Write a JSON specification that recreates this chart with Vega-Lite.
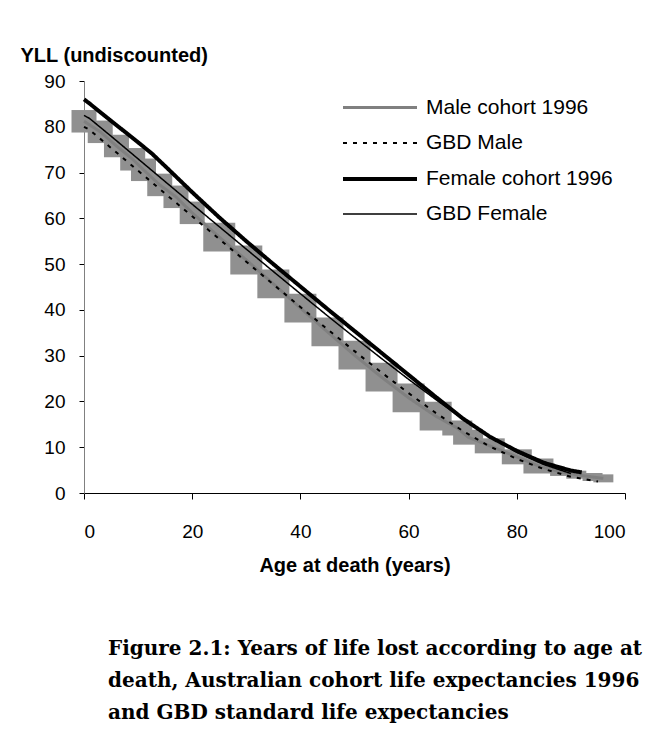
{
  "$schema": "https://vega.github.io/schema/vega-lite/v6.json",
  "width": 541,
  "height": 412,
  "autosize": {"type": "none"},
  "padding": {"left": 84, "top": 81, "right": 46, "bottom": 238},
  "background": "white",
  "config": {"view": {"stroke": null}, "font": "Liberation Sans"},
  "title": {
    "text": ["Figure 2.1: Years of life lost according to age at", "death, Australian cohort life expectancies 1996", "and GBD standard life expectancies"],
    "orient": "bottom",
    "anchor": "start",
    "frame": "group",
    "dx": 24,
    "offset": 64,
    "font": "DejaVu Serif",
    "fontSize": 20,
    "fontWeight": "bold",
    "lineHeight": 32,
    "color": "black"
  },
  "data": {
    "values": [
      {"series": "Male cohort 1996", "age": 0, "yll": 81.2},
      {"series": "Male cohort 1996", "age": 3, "yll": 78.9},
      {"series": "Male cohort 1996", "age": 6, "yll": 75.8},
      {"series": "Male cohort 1996", "age": 9, "yll": 72.9},
      {"series": "Male cohort 1996", "age": 11, "yll": 70.6},
      {"series": "Male cohort 1996", "age": 14, "yll": 67.3},
      {"series": "Male cohort 1996", "age": 17, "yll": 64.7},
      {"series": "Male cohort 1996", "age": 20, "yll": 61.2},
      {"series": "Male cohort 1996", "age": 25, "yll": 55.9},
      {"series": "Male cohort 1996", "age": 30, "yll": 50.9},
      {"series": "Male cohort 1996", "age": 35, "yll": 45.7},
      {"series": "Male cohort 1996", "age": 40, "yll": 40.4},
      {"series": "Male cohort 1996", "age": 45, "yll": 35.2},
      {"series": "Male cohort 1996", "age": 50, "yll": 30.1},
      {"series": "Male cohort 1996", "age": 55, "yll": 25.3},
      {"series": "Male cohort 1996", "age": 60, "yll": 20.8},
      {"series": "Male cohort 1996", "age": 65, "yll": 16.8},
      {"series": "Male cohort 1996", "age": 69, "yll": 14.2},
      {"series": "Male cohort 1996", "age": 71, "yll": 12.2},
      {"series": "Male cohort 1996", "age": 75, "yll": 10.3},
      {"series": "Male cohort 1996", "age": 80, "yll": 7.9},
      {"series": "Male cohort 1996", "age": 84, "yll": 5.9},
      {"series": "Male cohort 1996", "age": 88, "yll": 4.6},
      {"series": "Male cohort 1996", "age": 91, "yll": 4.0},
      {"series": "Male cohort 1996", "age": 94, "yll": 3.5},
      {"series": "Male cohort 1996", "age": 96, "yll": 3.2},
      {"series": "GBD Male", "age": 0, "yll": 80.0},
      {"series": "GBD Male", "age": 1, "yll": 79.36},
      {"series": "GBD Male", "age": 5, "yll": 75.38},
      {"series": "GBD Male", "age": 10, "yll": 70.4},
      {"series": "GBD Male", "age": 15, "yll": 65.41},
      {"series": "GBD Male", "age": 20, "yll": 60.44},
      {"series": "GBD Male", "age": 25, "yll": 55.47},
      {"series": "GBD Male", "age": 30, "yll": 50.51},
      {"series": "GBD Male", "age": 35, "yll": 45.57},
      {"series": "GBD Male", "age": 40, "yll": 40.64},
      {"series": "GBD Male", "age": 45, "yll": 35.77},
      {"series": "GBD Male", "age": 50, "yll": 30.99},
      {"series": "GBD Male", "age": 55, "yll": 26.32},
      {"series": "GBD Male", "age": 60, "yll": 21.81},
      {"series": "GBD Male", "age": 65, "yll": 17.5},
      {"series": "GBD Male", "age": 70, "yll": 13.58},
      {"series": "GBD Male", "age": 75, "yll": 10.17},
      {"series": "GBD Male", "age": 80, "yll": 7.45},
      {"series": "GBD Male", "age": 85, "yll": 5.24},
      {"series": "GBD Male", "age": 90, "yll": 3.54},
      {"series": "GBD Male", "age": 95, "yll": 2.5},
      {"series": "Female cohort 1996", "age": 0, "yll": 86.0},
      {"series": "Female cohort 1996", "age": 1, "yll": 85.1},
      {"series": "Female cohort 1996", "age": 5, "yll": 81.3},
      {"series": "Female cohort 1996", "age": 10, "yll": 76.6},
      {"series": "Female cohort 1996", "age": 12.5, "yll": 74.2},
      {"series": "Female cohort 1996", "age": 15, "yll": 71.4},
      {"series": "Female cohort 1996", "age": 20, "yll": 65.7},
      {"series": "Female cohort 1996", "age": 25, "yll": 60.2},
      {"series": "Female cohort 1996", "age": 30, "yll": 55.0},
      {"series": "Female cohort 1996", "age": 35, "yll": 50.0},
      {"series": "Female cohort 1996", "age": 40, "yll": 45.1},
      {"series": "Female cohort 1996", "age": 45, "yll": 40.2},
      {"series": "Female cohort 1996", "age": 50, "yll": 35.4},
      {"series": "Female cohort 1996", "age": 55, "yll": 30.6},
      {"series": "Female cohort 1996", "age": 60, "yll": 25.8},
      {"series": "Female cohort 1996", "age": 65, "yll": 21.0},
      {"series": "Female cohort 1996", "age": 70, "yll": 16.3},
      {"series": "Female cohort 1996", "age": 75, "yll": 12.3},
      {"series": "Female cohort 1996", "age": 80, "yll": 9.2},
      {"series": "Female cohort 1996", "age": 85, "yll": 6.6},
      {"series": "Female cohort 1996", "age": 90, "yll": 4.9},
      {"series": "Female cohort 1996", "age": 92, "yll": 4.5},
      {"series": "GBD Female", "age": 0, "yll": 82.5},
      {"series": "GBD Female", "age": 1, "yll": 81.84},
      {"series": "GBD Female", "age": 5, "yll": 77.95},
      {"series": "GBD Female", "age": 10, "yll": 72.99},
      {"series": "GBD Female", "age": 15, "yll": 68.02},
      {"series": "GBD Female", "age": 20, "yll": 63.08},
      {"series": "GBD Female", "age": 25, "yll": 58.17},
      {"series": "GBD Female", "age": 30, "yll": 53.27},
      {"series": "GBD Female", "age": 35, "yll": 48.38},
      {"series": "GBD Female", "age": 40, "yll": 43.53},
      {"series": "GBD Female", "age": 45, "yll": 38.72},
      {"series": "GBD Female", "age": 50, "yll": 33.99},
      {"series": "GBD Female", "age": 55, "yll": 29.37},
      {"series": "GBD Female", "age": 60, "yll": 24.83},
      {"series": "GBD Female", "age": 65, "yll": 20.44},
      {"series": "GBD Female", "age": 70, "yll": 16.2},
      {"series": "GBD Female", "age": 75, "yll": 12.28},
      {"series": "GBD Female", "age": 80, "yll": 8.9},
      {"series": "GBD Female", "age": 85, "yll": 6.22},
      {"series": "GBD Female", "age": 90, "yll": 4.25}
    ]
  },
  "encoding": {
    "x": {
      "field": "age", "type": "quantitative",
      "scale": {"domain": [0, 100], "nice": false},
      "axis": {
        "title": "Age at death (years)",
        "values": [0, 20, 40, 60, 80, 100],
        "grid": false,
        "domainColor": "black", "tickColor": "black", "tickSize": 6,
        "labelFont": "Liberation Sans", "labelFontSize": 19, "labelColor": "black", "labelPadding": 23,
        "titleFont": "Liberation Sans", "titleFontSize": 20, "titleFontWeight": "bold", "titleColor": "black", "titlePadding": 14
      }
    },
    "y": {
      "field": "yll", "type": "quantitative",
      "scale": {"domain": [0, 90], "nice": false},
      "axis": {
        "title": "YLL (undiscounted)",
        "values": [0, 10, 20, 30, 40, 50, 60, 70, 80, 90],
        "grid": false,
        "domainColor": "#808080", "tickColor": "black", "tickSize": 5,
        "labelFont": "Liberation Sans", "labelFontSize": 19, "labelColor": "black", "labelPadding": 14,
        "titleFont": "Liberation Sans", "titleFontSize": 20, "titleFontWeight": "bold", "titleColor": "black",
        "titleAngle": 0, "titleAlign": "left", "titleBaseline": "middle", "titleX": -64, "titleY": -26
      }
    }
  },
  "layer": [
    {
      "transform": [{"filter": "datum.series === 'Male cohort 1996'"}],
      "mark": {"type": "point", "filled": true, "fill": "#909090", "opacity": 1, "strokeWidth": 0},
      "encoding": {
        "shape": {
          "condition": [
            {"test": "datum.age > 86", "value": "M-1,-0.4H1V0.4H-1Z"},
            {"test": "datum.age > 66", "value": "M-1,-0.5H1V0.5H-1Z"}
          ],
          "value": "M-1,-0.9H1V0.9H-1Z"
        },
        "size": {
          "condition": [
            {"test": "datum.age > 86", "value": 400},
            {"test": "datum.age > 66", "value": 900},
            {"test": "datum.age <= 20", "value": 625}
          ],
          "value": 1024
        }
      }
    },
    {
      "mark": {"type": "line", "strokeCap": "butt"},
      "encoding": {
        "color": {
          "field": "series", "type": "nominal",
          "scale": {"domain": ["Male cohort 1996", "GBD Male", "Female cohort 1996", "GBD Female"], "range": ["#808080", "black", "black", "black"]},
          "legend": {
            "title": null, "orient": "none", "legendX": 284, "legendY": 15,
            "symbolType": "M-3.7,0H3.7", "symbolSize": 400, "labelFont": "Liberation Sans", "labelFontSize": 21,
            "labelColor": "black", "labelOffset": 34, "labelLimit": 400, "rowPadding": 14
          }
        },
        "strokeDash": {
          "field": "series", "type": "nominal",
          "scale": {"domain": ["Male cohort 1996", "GBD Male", "Female cohort 1996", "GBD Female"], "range": [[1, 0], [4, 6], [1, 0], [1, 0]]}
        },
        "strokeWidth": {
          "field": "series", "type": "nominal",
          "scale": {"type": "ordinal", "domain": ["Male cohort 1996", "GBD Male", "Female cohort 1996", "GBD Female"], "range": [3, 2, 4, 1.5]}
        }
      }
    }
  ]
}
